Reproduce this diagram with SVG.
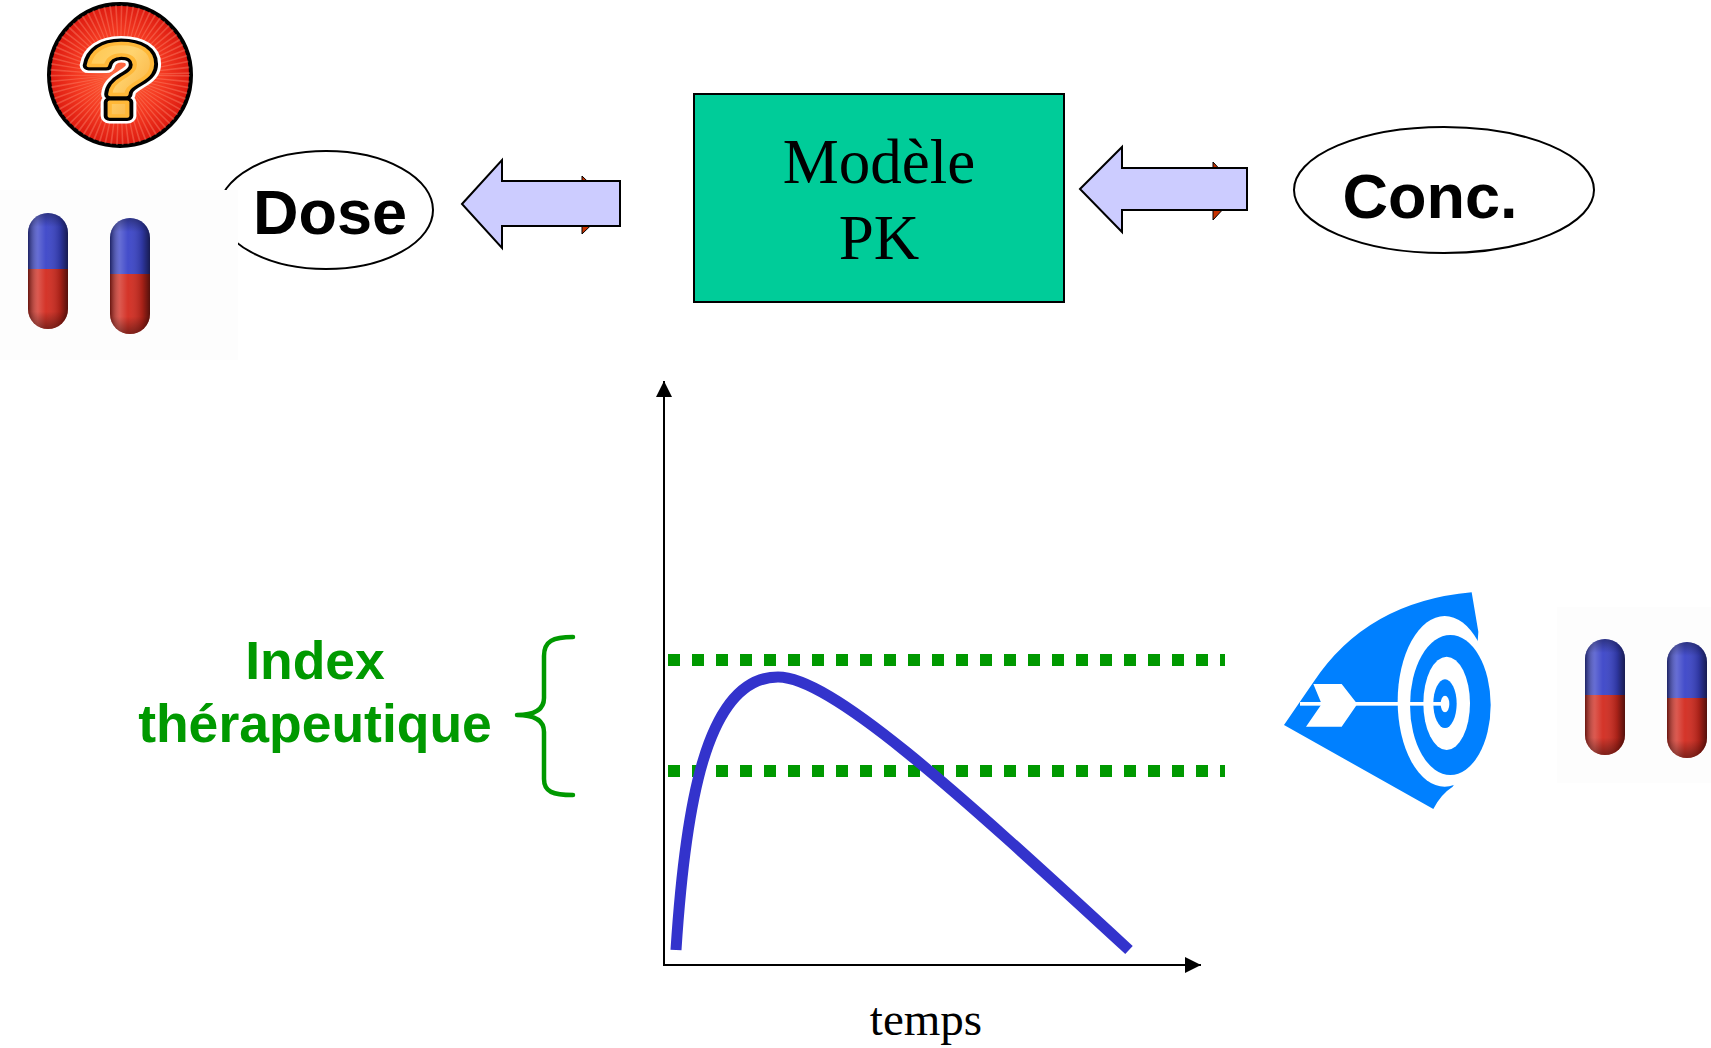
<svg xmlns="http://www.w3.org/2000/svg" xmlns:xlink="http://www.w3.org/1999/xlink" width="1711" height="1048" viewBox="0 0 1711 1048">
  <style>
    .sans-b { font-family: "Liberation Sans", Arial, sans-serif; font-weight: bold; }
    .serif { font-family: "Liberation Serif", "Times New Roman", serif; }
    .oval { fill: #ffffff; stroke: #000000; stroke-width: 2; }
    .block-arrow { fill: #ccccff; stroke: #000000; stroke-width: 2; stroke-linejoin: miter; }
    .behind-head { fill: #c83200; stroke: #000000; stroke-width: 1; }
    .axis { fill: none; stroke: #000000; stroke-width: 2; }
    .limit { fill: none; stroke: #009900; stroke-width: 12; stroke-dasharray: 12 12; }
    .curve { fill: none; stroke: #3333cc; stroke-width: 11; }
    .photo-bg { fill: #fdfdfd; }
    .target-blue { fill: #0080ff; }
    .target-white { fill: #ffffff; }
  </style>
  <defs>
    <marker id="axisHead" viewBox="0 0 16 16" refX="16" refY="8" markerWidth="16" markerHeight="16" markerUnits="userSpaceOnUse" orient="auto">
      <path d="M0,0 L16,8 L0,16 Z" fill="#000000"/>
    </marker>
    <radialGradient id="badgeFill" cx="50%" cy="50%" r="50%">
      <stop offset="0" stop-color="#ff6a40"/>
      <stop offset="0.6" stop-color="#f43a22"/>
      <stop offset="1" stop-color="#dd1a10"/>
    </radialGradient>
    <linearGradient id="qFill" x1="0" y1="0" x2="1" y2="1">
      <stop offset="0" stop-color="#ffc040"/>
      <stop offset="0.45" stop-color="#ffd470"/>
      <stop offset="1" stop-color="#f59a20"/>
    </linearGradient>
    <clipPath id="badgeClip">
      <circle cx="120" cy="75" r="70"/>
    </clipPath>
    <clipPath id="capClip">
      <rect x="0" y="0" width="40" height="116" rx="20" ry="20"/>
    </clipPath>
    <linearGradient id="capShade" x1="0" y1="0" x2="1" y2="0">
      <stop offset="0" stop-color="#000000" stop-opacity="0.5"/>
      <stop offset="0.25" stop-color="#ffffff" stop-opacity="0.22"/>
      <stop offset="0.45" stop-color="#ffffff" stop-opacity="0.05"/>
      <stop offset="0.8" stop-color="#000000" stop-opacity="0.2"/>
      <stop offset="1" stop-color="#000000" stop-opacity="0.6"/>
    </linearGradient>
    <linearGradient id="capShadeV" x1="0" y1="0" x2="0" y2="1">
      <stop offset="0" stop-color="#000000" stop-opacity="0.35"/>
      <stop offset="0.12" stop-color="#000000" stop-opacity="0"/>
      <stop offset="0.85" stop-color="#000000" stop-opacity="0"/>
      <stop offset="1" stop-color="#000000" stop-opacity="0.4"/>
    </linearGradient>
    <!-- two-tone gelatin capsule -->
    <g id="capsule">
      <g clip-path="url(#capClip)">
        <rect x="0" y="0" width="40" height="56" fill="#3a44c8"/>
        <rect x="0" y="56" width="40" height="60" fill="#d22a1e"/>
        <rect x="0" y="0" width="40" height="116" fill="url(#capShade)"/>
        <rect x="0" y="0" width="40" height="116" fill="url(#capShadeV)"/>
      </g>
    </g>
  </defs>

  <!-- question badge -->
  <g id="question-badge">
    <circle cx="120" cy="75" r="71" fill="url(#badgeFill)" stroke="#000000" stroke-width="4"/>
    <circle cx="120" cy="75" r="38" fill="none" stroke="#ff9a80" stroke-opacity="0.35" stroke-width="64" stroke-dasharray="1 2.2" clip-path="url(#badgeClip)"/>
    <g transform="translate(121,116) scale(1.2,1)">
      <text x="0" y="0" text-anchor="middle" class="sans-b" font-size="104" fill="#ffffff" stroke="#ffffff" stroke-width="15" stroke-linejoin="round">?</text>
      <text x="0" y="0" text-anchor="middle" class="sans-b" font-size="104" fill="#000000" stroke="#000000" stroke-width="10" stroke-linejoin="round">?</text>
      <text x="0" y="0" text-anchor="middle" class="sans-b" font-size="104" fill="url(#qFill)" stroke="#ffb838" stroke-width="3.5" stroke-linejoin="round">?</text>
    </g>
  </g>

  <!-- Dose oval, partly covered by the capsule photo -->
  <g id="dose">
    <ellipse class="oval" cx="326" cy="210" rx="107" ry="59"/>
    <text x="330" y="234" text-anchor="middle" class="sans-b" font-size="63" fill="#000000">Dose</text>
  </g>

  <g id="capsules-left">
    <rect class="photo-bg" x="0" y="190" width="238" height="170"/>
    <use xlink:href="#capsule" transform="translate(28,213)"/>
    <use xlink:href="#capsule" transform="translate(110,218)"/>
  </g>

  <!-- PK model box -->
  <g id="pk-model">
    <rect x="694" y="94" width="370" height="208" fill="#00cc99" stroke="#000000" stroke-width="2"/>
    <text x="879" y="183" text-anchor="middle" class="serif" font-size="63" fill="#000000">Modèle</text>
    <text x="879" y="259" text-anchor="middle" class="serif" font-size="63" fill="#000000">PK</text>
  </g>

  <!-- Concentration oval -->
  <g id="conc">
    <ellipse class="oval" cx="1444" cy="190" rx="150" ry="63"/>
    <text x="1430" y="218" text-anchor="middle" class="sans-b" font-size="63" fill="#000000">Conc.</text>
  </g>

  <!-- block arrows between the boxes -->
  <g id="connectors">
    <polygon class="behind-head" points="582,176 582,234 612,205"/>
    <polygon class="block-arrow" points="462,204 502,160 502,181 620,181 620,226 502,226 502,248"/>
    <polygon class="behind-head" points="1213,162 1213,220 1240,191"/>
    <polygon class="block-arrow" points="1080,189 1122,147 1122,168 1247,168 1247,210 1122,210 1122,232"/>
  </g>

  <!-- therapeutic index label and brace -->
  <g id="therapeutic-index">
    <text x="315" y="679" text-anchor="middle" class="sans-b" font-size="53.5" fill="#009900">Index</text>
    <text x="315" y="742" text-anchor="middle" class="sans-b" font-size="53.5" fill="#009900">thérapeutique</text>
    <path d="M573,637 C553,637 544,641 544,656 L544,698 C544,709 536,715 517,715 C536,715 544,721 544,732 L544,779 C544,792 553,795 573,795" fill="none" stroke="#009900" stroke-width="4.5" stroke-linecap="round" stroke-linejoin="round"/>
  </g>

  <!-- concentration-time chart -->
  <g id="chart">
    <line class="axis" x1="664" y1="965" x2="664" y2="381" marker-end="url(#axisHead)"/>
    <line class="axis" x1="663" y1="965" x2="1201" y2="965" marker-end="url(#axisHead)"/>
    <line class="limit" x1="668" y1="660" x2="1225" y2="660"/>
    <line class="limit" x1="668" y1="771" x2="1225" y2="771"/>
    <path class="curve" d="M676,950 C685,810 705,677 778,677 C830,677 950,785 1129,950"/>
    <text x="926" y="1035" text-anchor="middle" class="serif" font-size="47" fill="#000000">temps</text>
  </g>

  <!-- target with arrow -->
  <g id="target" transform="translate(1270,585) scale(0.33333)">
    <path class="target-blue" d="M42,420 L130,292 Q290,50 605,22 L625,140 L600,520 L548,605 Q512,628 490,672 Z"/>
    <ellipse class="target-white" cx="524" cy="349" rx="141" ry="256"/>
    <ellipse class="target-blue" cx="541" cy="360" rx="121" ry="210"/>
    <ellipse class="target-white" cx="530" cy="355" rx="70" ry="140"/>
    <ellipse class="target-blue" cx="525" cy="356" rx="35" ry="73"/>
    <ellipse class="target-white" cx="525" cy="357" rx="13" ry="25"/>
    <rect class="target-white" x="90" y="351" width="430" height="11"/>
    <polygon class="target-white" points="130,297 215,297 262,357 215,425 108,425 155,357"/>
  </g>

  <g id="capsules-right">
    <rect class="photo-bg" x="1557" y="607" width="154" height="176"/>
    <use xlink:href="#capsule" transform="translate(1585,639)"/>
    <use xlink:href="#capsule" transform="translate(1667,642)"/>
  </g>
</svg>
